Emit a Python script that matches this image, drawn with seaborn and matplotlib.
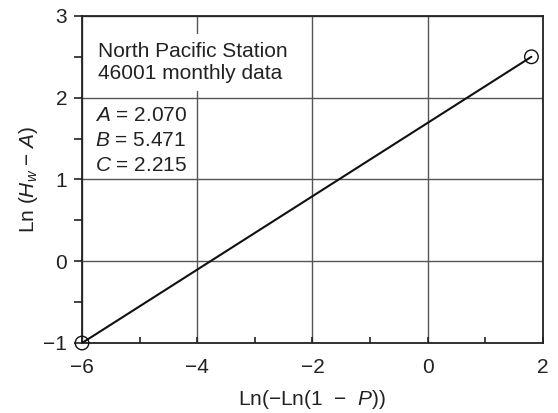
import numpy as np
import pandas as pd
import matplotlib
matplotlib.use("Agg")
import matplotlib.pyplot as plt
from matplotlib.ticker import MultipleLocator
import seaborn as sns

# Fitted Weibull line in linearised coordinates (end points)
x_fit = [-6.0, 1.8]
y_fit = [-1.0, 2.5]

# Fit parameters
param_names = ["A", "B", "C"]
param_values = ["2.070", "5.471", "2.215"]

station_lines = ["North Pacific Station", "46001 monthly data"]

x_ticks = [-6, -4, -2, 0, 2]
y_ticks = [-1, 0, 1, 2, 3]

sns.set_theme(style="white")
plt.rcParams["font.family"] = ["Liberation Sans", "DejaVu Sans"]
plt.rcParams["mathtext.fontset"] = "custom"
plt.rcParams["mathtext.rm"] = "Liberation Sans"
plt.rcParams["mathtext.it"] = "Liberation Sans:italic"

FS = 15
INK = "#222222"

fig = plt.figure(figsize=(5.58, 4.13), dpi=100)
ax = fig.add_axes([0.147, 0.1695, 0.826, 0.792])

df = pd.DataFrame({"x": x_fit, "y": y_fit})
sns.lineplot(data=df, x="x", y="y", ax=ax, color="#111111", linewidth=1.5, zorder=3)
sns.scatterplot(data=df, x="x", y="y", ax=ax, s=95, marker="o",
                facecolor="none", edgecolor="#111111", linewidth=1.0, zorder=4,
                clip_on=False)

ax.set_xlim(-6, 2)
ax.set_ylim(-1, 3)
ax.set_xticks(x_ticks)
ax.set_yticks(y_ticks)
ax.set_xticklabels([str(t).replace("-", "\u2212") for t in x_ticks])
ax.set_yticklabels([str(t).replace("-", "\u2212") for t in y_ticks])
ax.xaxis.set_minor_locator(MultipleLocator(1))
ax.yaxis.set_minor_locator(MultipleLocator(0.5))

ax.set_axisbelow(True)
ax.grid(True, which="major", color="#555555", linewidth=1.0)

for s in ax.spines.values():
    s.set_color(INK)
    s.set_linewidth(1.3)

ax.tick_params(axis="x", which="both", direction="in", length=4.5, width=1.2,
               color=INK, labelsize=FS, pad=10.5, labelcolor=INK, bottom=True)
ax.tick_params(axis="y", which="both", direction="out", length=5.8, width=1.2,
               color=INK, labelsize=FS, pad=5, labelcolor=INK, left=True)

ax.set_xlabel(r"Ln($-$Ln(1  $-$  $P$))", fontsize=FS, color=INK, labelpad=8.5)
ax.set_ylabel(r"Ln ($H_w$ $-$ $A$)", fontsize=FS, color=INK, labelpad=2)

# Station label: baseline given for the last line of the block
ax.text(-5.717, 2.229, station_lines[0] + "\n" + station_lines[1],
        fontsize=FS, color=INK, va="baseline", ha="left", linespacing=1.2,
        bbox=dict(facecolor="white", edgecolor="none", pad=6), zorder=2)

for i, (name, val) in enumerate(zip(param_names, param_values)):
    ax.text(-5.78, 1.716 - i * 0.306, f"${name}$ = {val}", fontsize=FS,
            color=INK, va="baseline", ha="left", zorder=2)

fig.savefig("out.png", dpi=100)
